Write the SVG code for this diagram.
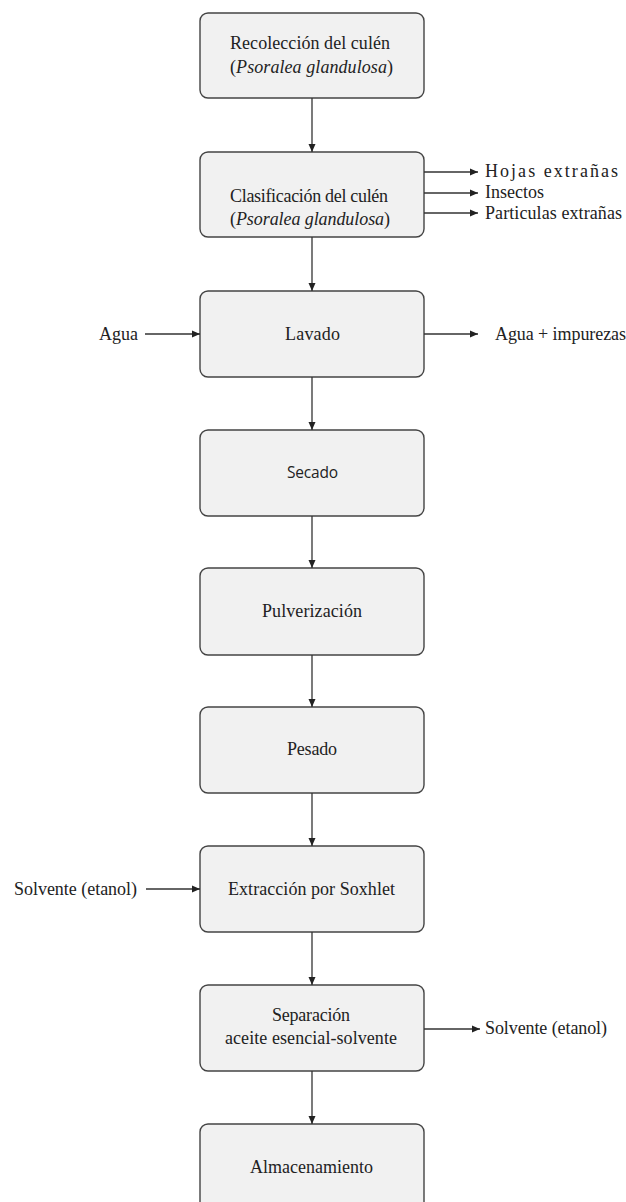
<svg xmlns="http://www.w3.org/2000/svg" width="626" height="1202" viewBox="0 0 626 1202" font-family="Liberation Serif, Times New Roman, serif">
  <style>
    .box { fill: #f1f1f1; stroke: #444; stroke-width: 1.4; }
    .lbl { font-size: 18px; fill: #222; }
    .sans { font-size: 15.5px; fill: #222; }
    .it { font-style: italic; }
    .wire { fill: none; stroke: #333; stroke-width: 1.3; marker-end: url(#arrow); }
  </style>
  <defs>
    <marker id="arrow" markerUnits="userSpaceOnUse" markerWidth="9" markerHeight="8" refX="8" refY="4" orient="auto">
      <path d="M0,0.5 L8,4 L0,7.5 Z" fill="#222"/>
    </marker>
  </defs>
  <rect width="626" height="1202" fill="#ffffff"/>

  <!-- process steps -->
  <g id="recoleccion">
    <rect class="box" x="200" y="13" width="224" height="85" rx="8"/>
    <text class="lbl" x="230" y="49" textLength="160" lengthAdjust="spacing">Recolección del culén</text>
    <text class="lbl" x="230" y="73" textLength="163" lengthAdjust="spacing">(<tspan class="it">Psoralea glandulosa</tspan>)</text>
  </g>
  <g id="clasificacion">
    <rect class="box" x="200" y="152" width="224" height="85" rx="8"/>
    <text class="lbl" x="230" y="202" textLength="158" lengthAdjust="spacing">Clasificación del culén</text>
    <text class="lbl" x="230" y="225" textLength="160" lengthAdjust="spacing">(<tspan class="it">Psoralea glandulosa</tspan>)</text>
  </g>
  <g id="lavado">
    <rect class="box" x="200" y="291" width="224" height="86" rx="8"/>
    <text class="lbl" x="285" y="340" textLength="55" lengthAdjust="spacing">Lavado</text>
  </g>
  <g id="secado">
    <rect class="box" x="200" y="430" width="224" height="86" rx="8"/>
    <text class="sans" x="287" y="478" textLength="51" lengthAdjust="spacing" font-family="Open Sans, Noto Sans, sans-serif">Secado</text>
  </g>
  <g id="pulverizacion">
    <rect class="box" x="200" y="568" width="224" height="87" rx="8"/>
    <text class="lbl" x="262" y="617" textLength="100" lengthAdjust="spacing">Pulverización</text>
  </g>
  <g id="pesado">
    <rect class="box" x="200" y="707" width="224" height="86" rx="8"/>
    <text class="lbl" x="287" y="755" textLength="50" lengthAdjust="spacing">Pesado</text>
  </g>
  <g id="extraccion">
    <rect class="box" x="200" y="846" width="224" height="86" rx="8"/>
    <text class="lbl" x="228" y="895" textLength="167" lengthAdjust="spacing">Extracción por Soxhlet</text>
  </g>
  <g id="separacion">
    <rect class="box" x="200" y="985" width="224" height="86" rx="8"/>
    <text class="lbl" x="272" y="1021" textLength="78" lengthAdjust="spacing">Separación</text>
    <text class="lbl" x="225" y="1044" textLength="172" lengthAdjust="spacing">aceite esencial-solvente</text>
  </g>
  <g id="almacenamiento">
    <rect class="box" x="200" y="1124" width="224" height="86" rx="8"/>
    <text class="lbl" x="250" y="1173" textLength="123" lengthAdjust="spacing">Almacenamiento</text>
  </g>

  <!-- inputs and outputs -->
  <g id="residuos-clasificacion">
    <text class="lbl" x="485" y="177" textLength="133" lengthAdjust="spacing">Hojas extrañas</text>
    <text class="lbl" x="485" y="198" textLength="59" lengthAdjust="spacing">Insectos</text>
    <text class="lbl" x="485" y="219" textLength="137" lengthAdjust="spacing">Particulas extrañas</text>
  </g>
  <g id="agua-entrada">
    <text class="lbl" x="99" y="340" textLength="39" lengthAdjust="spacing">Agua</text>
  </g>
  <g id="agua-salida">
    <text class="lbl" x="495" y="340" textLength="131" lengthAdjust="spacing">Agua + impurezas</text>
  </g>
  <g id="solvente-entrada">
    <text class="lbl" x="14" y="895" textLength="123" lengthAdjust="spacing">Solvente (etanol)</text>
  </g>
  <g id="solvente-salida">
    <text class="lbl" x="485" y="1034" textLength="122" lengthAdjust="spacing">Solvente (etanol)</text>
  </g>

  <!-- connectors -->
  <g id="connectors">
    <line class="wire" x1="312" y1="98" x2="312" y2="152"/>
    <line class="wire" x1="312" y1="237" x2="312" y2="291"/>
    <line class="wire" x1="312" y1="377" x2="312" y2="430"/>
    <line class="wire" x1="312" y1="516" x2="312" y2="568"/>
    <line class="wire" x1="312" y1="655" x2="312" y2="707"/>
    <line class="wire" x1="312" y1="793" x2="312" y2="846"/>
    <line class="wire" x1="312" y1="932" x2="312" y2="985"/>
    <line class="wire" x1="312" y1="1071" x2="312" y2="1124"/>

    <line class="wire" x1="424" y1="172" x2="478" y2="172"/>
    <line class="wire" x1="424" y1="193" x2="478" y2="193"/>
    <line class="wire" x1="424" y1="213" x2="478" y2="213"/>

    <line class="wire" x1="145" y1="334" x2="200" y2="334"/>
    <line class="wire" x1="424" y1="334" x2="478" y2="334"/>

    <line class="wire" x1="146" y1="889" x2="200" y2="889"/>
    <line class="wire" x1="424" y1="1029" x2="480" y2="1029"/>
  </g>
</svg>
